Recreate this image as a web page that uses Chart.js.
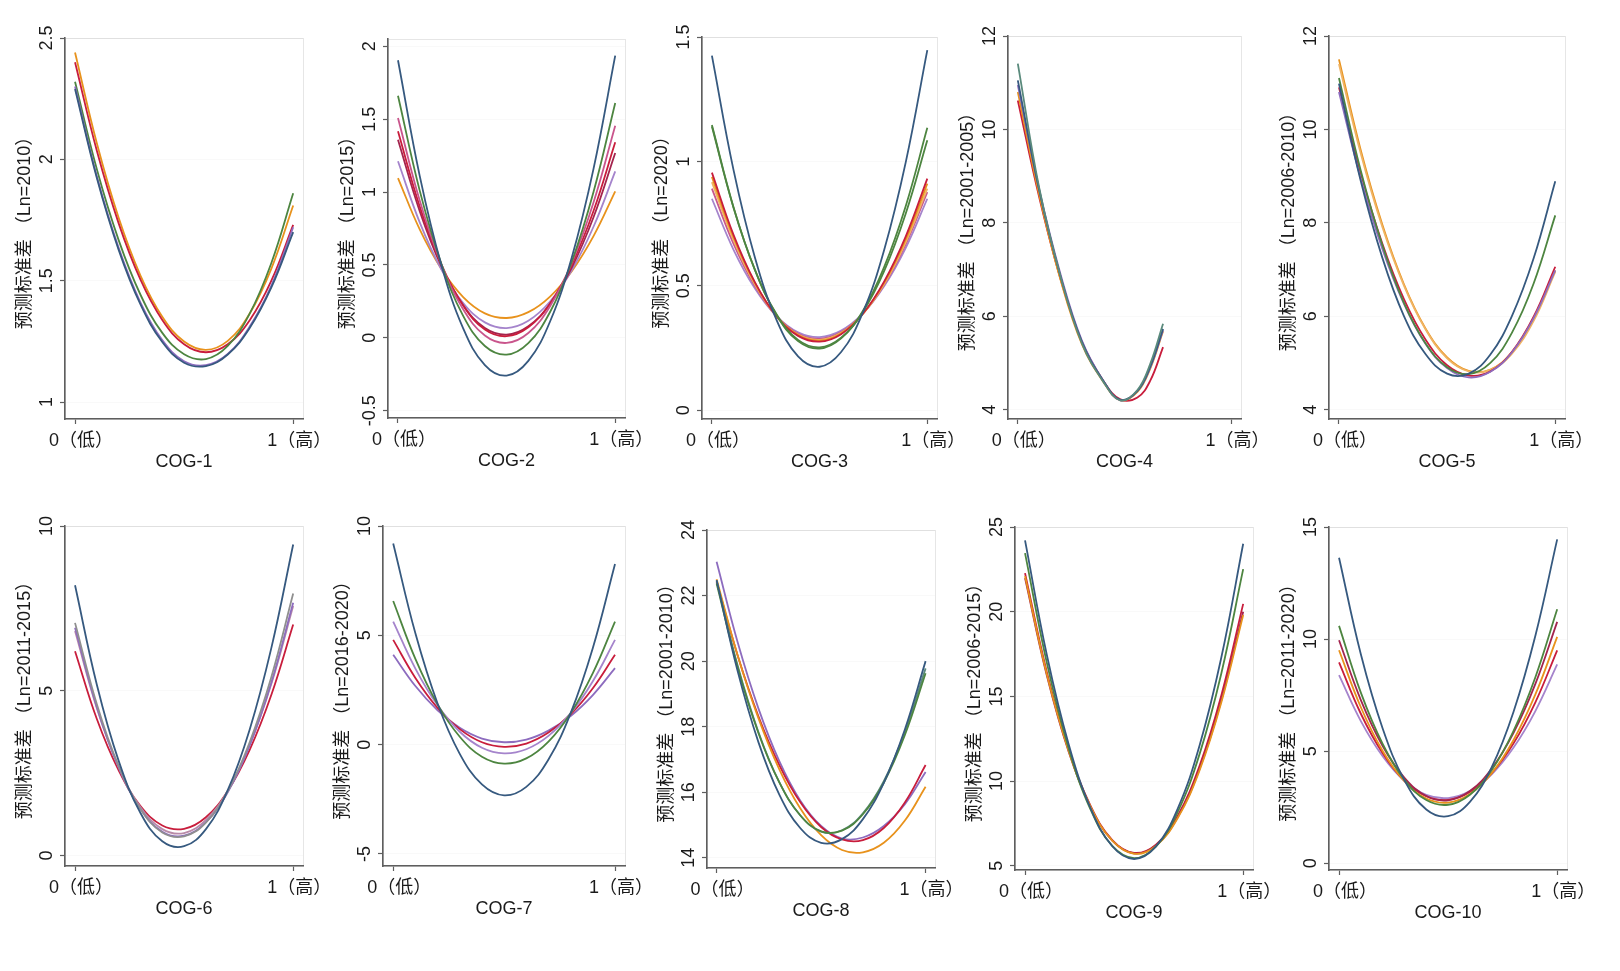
<!DOCTYPE html>
<html>
<head>
<meta charset="utf-8">
<script src="https://cdn.jsdelivr.net/npm/chart.js@4.4.1/dist/chart.umd.min.js"></script>
<style>
  html, body { margin: 0; padding: 0; background: #fff; }
  body { width: 1620px; height: 971px; position: relative; overflow: hidden; }
  canvas { position: absolute; }
</style>
</head>
<body>
<script>
const xs = [0, 0.1, 0.2, 0.3, 0.4, 0.5, 0.6, 0.7, 0.8, 0.9, 1];
const xs4 = [0, 0.1, 0.2, 0.3, 0.4, 0.48, 0.56, 0.62, 0.68]; // COG-4 stops early

const xTickValues = [0, 1];
const xTickLabels = ['0（低）', '1（高）'];

const xTitles = ['COG-1', 'COG-2', 'COG-3', 'COG-4', 'COG-5', 'COG-6', 'COG-7', 'COG-8', 'COG-9', 'COG-10'];
const yTitles = [
  '预测标准差 （Ln=2010）', '预测标准差 （Ln=2015）', '预测标准差 （Ln=2020）',
  '预测标准差 （Ln=2001-2005）', '预测标准差 （Ln=2006-2010）', '预测标准差 （Ln=2011-2015）',
  '预测标准差 （Ln=2016-2020）', '预测标准差 （Ln=2001-2010）', '预测标准差 （Ln=2006-2015）',
  '预测标准差 （Ln=2011-2020）'
];
const yTicks = [
  [1, 1.5, 2, 2.5], [-0.5, 0, 0.5, 1, 1.5, 2], [0, 0.5, 1, 1.5], [4, 6, 8, 10, 12], [4, 6, 8, 10, 12],
  [0, 5, 10], [-5, 0, 5, 10], [14, 16, 18, 20, 22, 24], [5, 10, 15, 20, 25], [0, 5, 10, 15]
];
const yMins = [0.93, -0.55, -0.035, 3.8, 3.8, -0.32, -5.55, 13.69, 4.75, -0.3];
const yMaxs = [2.5, 2.05, 1.5, 12, 12, 10, 10, 24, 25, 15];

// series colours
const BLUE = '#36597f', GREEN = '#4d8540', RED = '#c81d3c', PINK = '#c9558c', LILAC = '#a584cc',
      ORANGE = '#e8921c', PEACH = '#f0b464', GRAY = '#8f8f8f', TEAL = '#5a8a7c', MAROON = '#a3244e',
      PURPLE = '#8d6cbf', MAUVE = '#b98aa8';

// COG-1
const cog1Colors = [BLUE, PURPLE, GREEN, RED, ORANGE];
const cog1Curves = [
  [2.29, 1.923, 1.627, 1.402, 1.247, 1.162, 1.148, 1.196, 1.304, 1.472, 1.70],
  [2.30, 1.93, 1.635, 1.41, 1.255, 1.168, 1.152, 1.198, 1.31, 1.48, 1.72],
  [2.32, 1.959, 1.667, 1.442, 1.285, 1.197, 1.177, 1.231, 1.363, 1.573, 1.86],
  [2.40, 2.035, 1.736, 1.504, 1.338, 1.238, 1.205, 1.238, 1.336, 1.50, 1.73],
  [2.44, 2.066, 1.759, 1.521, 1.351, 1.249, 1.215, 1.252, 1.364, 1.55, 1.81]
];
// COG-2
const cog2Colors = [BLUE, GREEN, PINK, RED, MAROON, LILAC, ORANGE];
const cog2Curves = [
  [1.904, 1.111, 0.498, 0.065, -0.187, -0.259, -0.158, 0.112, 0.551, 1.159, 1.936],
  [1.661, 1.010, 0.506, 0.151, -0.056, -0.115, -0.036, 0.177, 0.522, 1.0, 1.611],
  [1.508, 0.942, 0.505, 0.196, 0.016, -0.035, 0.033, 0.217, 0.515, 0.928, 1.455],
  [1.417, 0.901, 0.503, 0.222, 0.057, 0.011, 0.072, 0.236, 0.502, 0.870, 1.341],
  [1.359, 0.869, 0.490, 0.223, 0.067, 0.022, 0.080, 0.233, 0.482, 0.827, 1.268],
  [1.211, 0.792, 0.468, 0.239, 0.106, 0.067, 0.117, 0.249, 0.464, 0.762, 1.142],
  [1.096, 0.744, 0.472, 0.280, 0.168, 0.136, 0.176, 0.283, 0.457, 0.698, 1.005]
];
// COG-3
const cog3Colors = [BLUE, GREEN, GREEN, RED, ORANGE, PEACH, PINK, LILAC];
const cog3Curves = [
  [1.425, 0.967, 0.613, 0.363, 0.217, 0.175, 0.234, 0.391, 0.645, 0.997, 1.447],
  [1.146, 0.817, 0.563, 0.383, 0.278, 0.248, 0.289, 0.398, 0.576, 0.821, 1.135],
  [1.14, 0.815, 0.564, 0.386, 0.283, 0.253, 0.292, 0.394, 0.560, 0.791, 1.085],
  [0.955, 0.706, 0.514, 0.378, 0.299, 0.276, 0.306, 0.387, 0.518, 0.699, 0.931],
  [0.938, 0.697, 0.511, 0.379, 0.302, 0.280, 0.309, 0.387, 0.513, 0.688, 0.911],
  [0.917, 0.685, 0.505, 0.378, 0.304, 0.283, 0.311, 0.386, 0.508, 0.676, 0.891],
  [0.891, 0.670, 0.499, 0.378, 0.307, 0.287, 0.314, 0.387, 0.505, 0.668, 0.877],
  [0.850, 0.646, 0.489, 0.378, 0.313, 0.294, 0.320, 0.388, 0.499, 0.653, 0.850]
];
// COG-4 (read on xs4)
const cog4Colors = [TEAL, BLUE, PURPLE, ORANGE, RED];
const cog4Curves = [
  [11.41, 8.75, 6.85, 5.42, 4.6, 4.2, 4.42, 4.98, 5.84],
  [11.05, 8.7, 6.85, 5.45, 4.62, 4.21, 4.40, 4.92, 5.73],
  [10.95, 8.72, 6.9, 5.48, 4.62, 4.2, 4.4, 4.9, 5.7],
  [10.8, 8.6, 6.78, 5.4, 4.6, 4.2, 4.38, 4.88, 5.68],
  [10.62, 8.55, 6.8, 5.45, 4.62, 4.22, 4.26, 4.62, 5.34]
];
// COG-5
const cog5Colors = [BLUE, GREEN, PURPLE, RED, PEACH, ORANGE];
const cog5Curves = [
  [10.98, 8.91, 7.26, 6.01, 5.19, 4.77, 4.77, 5.18, 6.01, 7.24, 8.89],
  [11.1, 9.13, 7.53, 6.29, 5.42, 4.91, 4.76, 5.0, 5.65, 6.70, 8.16],
  [10.8, 8.96, 7.45, 6.27, 5.41, 4.89, 4.69, 4.81, 5.23, 5.96, 6.98],
  [10.9, 9.07, 7.56, 6.37, 5.50, 4.95, 4.73, 4.82, 5.24, 5.99, 7.06],
  [11.4, 9.5, 7.92, 6.66, 5.72, 5.1, 4.82, 4.85, 5.2, 5.9, 6.95],
  [11.5, 9.57, 7.97, 6.69, 5.74, 5.12, 4.83, 4.86, 5.23, 5.94, 6.98]
];
// COG-6
const cog6Colors = [BLUE, GRAY, PURPLE, MAUVE, RED];
const cog6Curves = [
  [8.20, 5.18, 2.87, 1.29, 0.43, 0.28, 0.80, 1.98, 3.81, 6.30, 9.44],
  [7.06, 4.59, 2.71, 1.41, 0.70, 0.58, 1.0, 1.95, 3.43, 5.42, 7.95],
  [6.91, 4.50, 2.67, 1.41, 0.72, 0.60, 1.01, 1.92, 3.33, 5.25, 7.67],
  [6.81, 4.47, 2.69, 1.46, 0.80, 0.68, 1.08, 1.96, 3.34, 5.21, 7.57],
  [6.20, 4.14, 2.58, 1.50, 0.91, 0.81, 1.16, 1.96, 3.20, 4.88, 7.01]
];
// COG-7
const cog7Colors = [BLUE, GREEN, LILAC, RED, PURPLE];
const cog7Curves = [
  [9.20, 5.09, 1.88, -0.42, -1.82, -2.32, -1.93, -0.68, 1.44, 4.42, 8.26],
  [6.57, 3.92, 1.84, 0.36, -0.55, -0.87, -0.63, 0.14, 1.44, 3.27, 5.63],
  [5.63, 3.48, 1.80, 0.59, -0.14, -0.40, -0.21, 0.40, 1.44, 2.90, 4.79],
  [4.79, 3.05, 1.68, 0.71, 0.11, -0.10, 0.05, 0.55, 1.39, 2.58, 4.11],
  [4.11, 2.68, 1.57, 0.77, 0.28, 0.11, 0.23, 0.64, 1.31, 2.27, 3.50]
];
// COG-8
const cog8Colors = [BLUE, GREEN, TEAL, ORANGE, RED, PURPLE];
const cog8Curves = [
  [22.47, 19.71, 17.53, 15.93, 14.91, 14.46, 14.57, 15.18, 16.29, 17.90, 20.0],
  [22.37, 19.83, 17.81, 16.30, 15.30, 14.81, 14.83, 15.33, 16.29, 17.73, 19.63],
  [22.45, 19.88, 17.84, 16.31, 15.30, 14.80, 14.84, 15.36, 16.34, 17.83, 19.78],
  [22.5, 20.19, 18.26, 16.70, 15.51, 14.69, 14.24, 14.17, 14.46, 15.13, 16.17],
  [22.42, 20.19, 18.32, 16.83, 15.70, 14.94, 14.56, 14.54, 14.91, 15.68, 16.83],
  [23.03, 20.59, 18.56, 16.95, 15.75, 14.97, 14.59, 14.62, 14.97, 15.63, 16.62]
];
// COG-9
const cog9Colors = [BLUE, GREEN, ORANGE, MAROON, RED];
const cog9Curves = [
  [24.21, 17.44, 12.17, 8.41, 6.15, 5.40, 6.14, 8.38, 12.10, 17.31, 24.01],
  [23.46, 16.98, 11.93, 8.33, 6.17, 5.45, 6.13, 8.18, 11.59, 16.37, 22.51],
  [22.1, 16.3, 11.78, 8.5, 6.48, 5.71, 6.17, 7.82, 10.63, 14.65, 19.81],
  [21.98, 16.23, 11.73, 8.48, 6.48, 5.73, 6.20, 7.87, 10.72, 14.77, 20.0],
  [22.28, 16.43, 11.86, 8.55, 6.52, 5.76, 6.25, 7.96, 10.90, 15.07, 20.46]
];
// COG-10
const cog10Colors = [BLUE, GREEN, MAROON, ORANGE, RED, LILAC];
const cog10Curves = [
  [13.63, 9.32, 6.01, 3.70, 2.40, 2.10, 2.74, 4.29, 6.76, 10.15, 14.45],
  [10.59, 7.61, 5.32, 3.72, 2.82, 2.61, 3.06, 4.16, 5.91, 8.30, 11.33],
  [9.95, 7.28, 5.23, 3.81, 3.0, 2.81, 3.22, 4.23, 5.82, 8.0, 10.77],
  [9.50, 6.96, 5.01, 3.66, 2.89, 2.71, 3.09, 4.02, 5.50, 7.53, 10.10],
  [8.96, 6.67, 4.91, 3.68, 2.99, 2.83, 3.18, 4.02, 5.35, 7.18, 9.50],
  [8.39, 6.34, 4.77, 3.67, 3.05, 2.91, 3.22, 3.97, 5.16, 6.79, 8.87]
];

const allCurves = [cog1Curves, cog2Curves, cog3Curves, cog4Curves, cog5Curves,
                   cog6Curves, cog7Curves, cog8Curves, cog9Curves, cog10Curves];
const allColors = [cog1Colors, cog2Colors, cog3Colors, cog4Colors, cog5Colors,
                   cog6Colors, cog7Colors, cog8Colors, cog9Colors, cog10Colors];

// plot area of each panel on the page: left, top, right, bottom
const frames = [
  [65, 38, 303, 419], [388, 39, 625, 418], [702, 37, 937, 419], [1008, 36, 1241, 419], [1329, 36, 1565, 419],
  [65, 526, 303, 866], [383, 526, 625, 866], [707, 530, 935, 868], [1015, 527, 1253, 870], [1329, 527, 1567, 870]
];

const FONT = '"Liberation Sans", Arial, "Noto Sans CJK SC", sans-serif';
const AXIS = '#5e5e5e';
const TEXT = '#1a1a1a';

// light frame around the plot region + rotated y tick labels (Stata style)
const stataLook = {
  id: 'stataLook',
  beforeDraw(chart) {
    const { ctx, chartArea: a } = chart;
    ctx.save();
    ctx.strokeStyle = '#e6e6e6';
    ctx.lineWidth = 1;
    ctx.strokeRect(a.left + 0.5, a.top + 0.5, a.right - a.left, a.bottom - a.top);
    ctx.restore();
  },
  afterDraw(chart) {
    const { ctx } = chart;
    const y = chart.scales.y;
    ctx.save();
    ctx.fillStyle = TEXT;
    ctx.font = '18px ' + FONT;
    ctx.textAlign = 'center';
    ctx.textBaseline = 'middle';
    y.ticks.forEach(t => {
      ctx.save();
      ctx.translate(y.right - 18, y.getPixelForValue(t.value));
      ctx.rotate(-Math.PI / 2);
      ctx.fillText(String(t.value), 0, 0);
      ctx.restore();
    });
    ctx.restore();
  }
};

const Y_W = 62, X_H = 60, PAD_T = 24, PAD_R = 48;

function makePanel(i) {
  const [L, T, R, B] = frames[i];
  const w = R - L + Y_W + PAD_R;
  const h = B - T + PAD_T + X_H;
  const cv = document.createElement('canvas');
  cv.width = w; cv.height = h;
  cv.style.left = (L - Y_W) + 'px';
  cv.style.top = (T - PAD_T) + 'px';
  cv.style.width = w + 'px';
  cv.style.height = h + 'px';
  document.body.appendChild(cv);

  const px = i === 3 ? xs4 : xs;
  const datasets = allCurves[i].map((ys, k) => ({
    data: ys.map((v, j) => ({ x: px[j], y: v })),
    borderColor: allColors[i][k],
    borderWidth: 1.8,
    pointRadius: 0,
    tension: 0.4,
    fill: false
  }));

  new Chart(cv, {
    type: 'line',
    data: { datasets },
    options: {
      responsive: false,
      animation: false,
      devicePixelRatio: 1,
      layout: { padding: { left: 0, top: PAD_T, right: PAD_R, bottom: 0 } },
      plugins: { legend: { display: false }, tooltip: { enabled: false } },
      scales: {
        x: {
          type: 'linear',
          min: -0.046,
          max: 1.045,
          afterBuildTicks: s => { s.ticks = xTickValues.map(v => ({ value: v })); },
          // keep the plot area exactly on its frame: no extra room for the end labels
          afterFit: s => { s.height = X_H; s.paddingLeft = 0; s.paddingRight = 0; },
          ticks: {
            autoSkip: false,
            maxRotation: 0,
            padding: 6,
            labelOffset: 6,
            color: TEXT,
            font: { family: FONT, size: 18 },
            callback: (v, idx) => xTickLabels[idx]
          },
          grid: { drawOnChartArea: false, tickLength: 5, tickColor: AXIS, tickWidth: 1.2 },
          border: { color: AXIS, width: 1.6 },
          title: {
            display: true,
            text: xTitles[i],
            color: TEXT,
            font: { family: FONT, size: 18 },
            padding: { top: 0, bottom: 6 }
          }
        },
        y: {
          type: 'linear',
          min: yMins[i],
          max: yMaxs[i],
          afterBuildTicks: s => { s.ticks = yTicks[i].map(v => ({ value: v })); },
          afterFit: s => { s.width = Y_W; s.paddingTop = 0; s.paddingBottom = 0; },
          ticks: { display: false },
          grid: { color: 'rgba(0,0,0,0.022)', tickLength: 5, tickColor: AXIS, tickWidth: 1.2 },
          border: { color: AXIS, width: 1.6 },
          title: {
            display: true,
            text: yTitles[i],
            color: TEXT,
            font: { family: FONT, size: 18 },
            padding: { top: 11, bottom: 0 }
          }
        }
      }
    },
    plugins: [stataLook]
  });
}

for (let i = 0; i < frames.length; i++) makePanel(i);
</script>
</body>
</html>
